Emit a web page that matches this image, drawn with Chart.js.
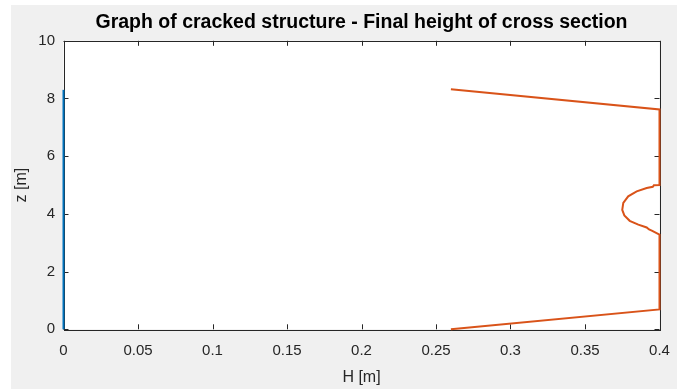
<!DOCTYPE html>
<html>
<head>
<meta charset="utf-8">
<script src="https://cdn.jsdelivr.net/npm/chart.js@4"></script>
<style>
  html, body { margin: 0; padding: 0; background: #ffffff; }
  #fig { position: absolute; left: 11px; top: 5px; width: 666px; height: 384px; background: #f0f0f0; }
  canvas { display: block; }
</style>
</head>
<body>
<div id="fig"><canvas id="myChart" width="666" height="384"></canvas></div>
<script>
const ctx = document.getElementById('myChart');

// tick labels
var hTicks = [0, 0.05, 0.1, 0.15, 0.2, 0.25, 0.3, 0.35, 0.4];
var zTicks = [0, 2, 4, 6, 8, 10];

// structure axis (uncracked)
var asseH = [0, 0];
var asseZ = [0, 8.3];

// final cross section height
var sezioneH = [0.26, 0.4, 0.4, 0.3948, 0.393, 0.3914, 0.3858, 0.380, 0.3764, 0.375, 0.3757, 0.379, 0.3847, 0.3914, 0.3955, 0.3962, 0.4, 0.4, 0.4, 0.26];
var sezioneZ = [0, 0.69, 3.28, 3.42, 3.46, 3.53, 3.63, 3.76, 3.95, 4.14, 4.38, 4.61, 4.78, 4.90, 4.94, 4.99, 5.0, 5.03, 7.62, 8.32];

function punti(xs, ys) {
  return xs.map(function (x, i) { return { x: x, y: ys[i] }; });
}

var asse = '#262626';

// white axes background, box and inward ticks
const boxAssi = {
  id: 'boxAssi',
  beforeDatasetsDraw(chart) {
    const c = chart.ctx, a = chart.chartArea;
    const sx = chart.scales.x, sy = chart.scales.y;
    c.save();
    c.fillStyle = '#ffffff';
    c.fillRect(a.left, a.top, a.right - a.left, a.bottom - a.top);
    c.strokeStyle = asse;
    c.lineWidth = 1;
    c.beginPath();
    hTicks.forEach(function (t) {
      var px = Math.round(sx.getPixelForValue(t)) + 0.5;
      c.moveTo(px, a.bottom); c.lineTo(px, a.bottom - 5);
      c.moveTo(px, a.top); c.lineTo(px, a.top + 5);
    });
    zTicks.forEach(function (t) {
      var py = Math.round(sy.getPixelForValue(t)) + 0.5;
      c.moveTo(a.left, py); c.lineTo(a.left + 5, py);
      c.moveTo(a.right, py); c.lineTo(a.right - 5, py);
    });
    c.stroke();
    c.strokeRect(Math.round(a.left) + 0.5, Math.round(a.top) + 0.5,
                 Math.round(a.right - a.left), Math.round(a.bottom - a.top));
    c.restore();
  }
};

new Chart(ctx, {
  type: 'scatter',
  data: {
    datasets: [
      {
        label: 'asse',
        data: punti(asseH, asseZ),
        showLine: true,
        borderColor: '#0072BD',
        borderWidth: 2,
        pointRadius: 0,
        clip: false
      },
      {
        label: 'sezione',
        data: punti(sezioneH, sezioneZ),
        showLine: true,
        borderColor: '#D95319',
        borderWidth: 2,
        pointRadius: 0,
        tension: 0,
        clip: false
      }
    ]
  },
  options: {
    responsive: false,
    animation: false,
    devicePixelRatio: 1,
    layout: { padding: { left: 0, right: 17.5, top: 0, bottom: 0 } },
    plugins: {
      legend: { display: false },
      tooltip: { enabled: false },
      title: {
        display: true,
        fullSize: false,
        text: 'Graph of cracked structure - Final height of cross section',
        color: '#000000',
        font: { family: 'Liberation Sans', size: 19.5, weight: 'bold', lineHeight: 1.2 },
        padding: { top: 6.4, bottom: 6 }
      }
    },
    scales: {
      x: {
        type: 'linear',
        min: 0,
        max: 0.4,
        afterFit: function (s) { s.height = 59.7; },
        afterBuildTicks: function (s) { s.ticks = hTicks.map(function (v) { return { value: v }; }); },
        grid: { display: false, drawTicks: true, tickLength: 12.5 },
        border: { display: false },
        ticks: {
          color: asse,
          padding: 0,
          maxRotation: 0,
          autoSkip: false,
          font: { family: 'Liberation Sans', size: 15 },
          callback: function (v) { return String(+v.toFixed(2)); }
        },
        title: {
          display: true,
          text: 'H [m]',
          color: asse,
          font: { family: 'Liberation Sans', size: 16, lineHeight: 1.2 },
          padding: { top: 0, bottom: 1.4 }
        }
      },
      y: {
        type: 'linear',
        min: 0,
        max: 10,
        afterFit: function (s) { s.width = 52.5; },
        afterBuildTicks: function (s) { s.ticks = zTicks.map(function (v) { return { value: v }; }); },
        grid: { display: false, drawTicks: true, tickLength: 8.5 },
        border: { display: false },
        ticks: {
          color: asse,
          padding: 0,
          autoSkip: false,
          font: { family: 'Liberation Sans', size: 15 }
        },
        title: {
          display: true,
          text: 'z [m]',
          color: asse,
          font: { family: 'Liberation Sans', size: 16, lineHeight: 1.2 },
          padding: { top: 1.1, bottom: 0 }
        }
      }
    }
  },
  plugins: [boxAssi]
});
</script>
</body>
</html>
